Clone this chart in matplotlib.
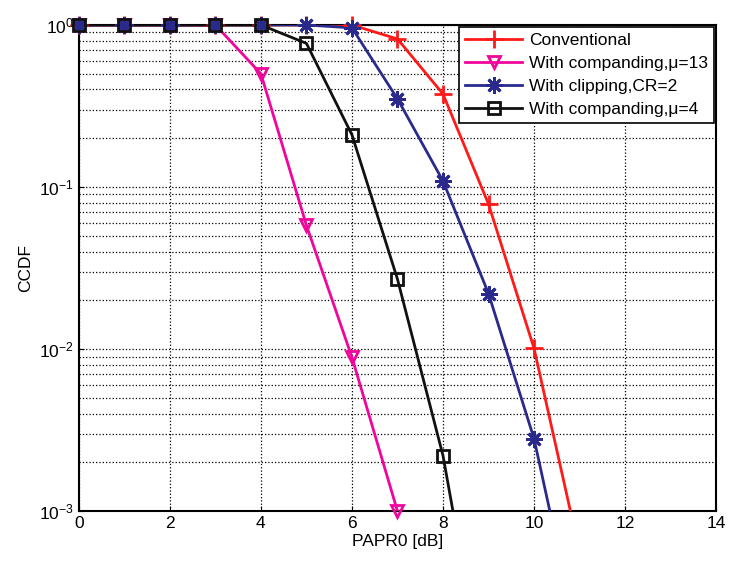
import matplotlib.pyplot as plt
import numpy as np
from matplotlib.lines import Line2D

plt.rcParams['font.family'] = ['Liberation Sans', 'DejaVu Sans']
plt.rcParams['mathtext.fontset'] = 'custom'
plt.rcParams['mathtext.rm'] = 'Liberation Sans'
plt.rcParams['mathtext.it'] = 'Liberation Sans'

papr = [0, 1, 2, 3, 4, 5, 6, 7, 8, 9, 10, 11]

conventional = [1, 1, 1, 1, 1, 1, 1, 0.82, 0.375, 0.0785, 0.0101, 0.00056]
comp_mu13 = [1, 1, 1, 1, 0.5, 0.058, 0.0089, 0.001, None, None, None, None]
clipping = [1, 1, 1, 1, 1, 1, 0.96, 0.35, 0.109, 0.022, 0.0028, 0.000145]
comp_mu4 = [1, 1, 1, 1, 1, 0.77, 0.21, 0.027, 0.0022, 0.00006, None, None]

labels = ['Conventional', 'With companding,\u03bc=13',
          'With clipping,CR=2', 'With companding,\u03bc=4']
colors = ['#ff1a1a', '#f0069a', '#2a2a8c', '#111111']
markers = ['+', 'v', (8, 2, 0), 's']
sizes = [13, 9, 12, 9]
hollow = [False, True, False, True]

fig = plt.figure(figsize=(7.3, 5.68), dpi=100)
ax = fig.add_axes([0.108, 0.100, 0.873, 0.856])

handles = []
for ys, c, m, ms, h in zip([conventional, comp_mu13, clipping, comp_mu4], colors, markers, sizes, hollow):
    xs = [x for x, y in zip(papr, ys) if y is not None]
    yv = [y for y in ys if y is not None]
    ax.plot(xs, yv, color=c, lw=2, zorder=3)
    mx = [x for x, y in zip(xs, yv) if y >= 0.001]
    my = [y for y in yv if y >= 0.001]
    ax.plot(mx, my, ls='none', marker=m, color=c, ms=ms, mew=2,
            mfc='none' if h else c, clip_on=False, zorder=4)
    handles.append(Line2D([], [], color=c, lw=2, marker=m, ms=ms, mew=2,
                          mfc='none' if h else c))

ax.set_yscale('log')
ax.set_xlim(0, 14)
ax.set_ylim(1e-3, 1)
ax.set_xticks(range(0, 15, 2))
ax.set_yticks([1e-3, 1e-2, 1e-1, 1])
ax.grid(True, which='major', color='k', ls=':', lw=0.9)
ax.grid(True, which='minor', axis='y', color='k', ls=':', lw=0.9)
ax.tick_params(which='both', direction='in', labelsize=12.5)
ax.tick_params(which='minor', length=0)
for s in ax.spines.values():
    s.set_linewidth(1.5)
ax.set_xlabel('PAPR0 [dB]', fontsize=12.5, labelpad=2)
ax.set_ylabel('CCDF', fontsize=12.5)

leg = ax.legend(handles, labels, loc='upper right', fontsize=12.5, frameon=True,
                fancybox=False, edgecolor='k', framealpha=1,
                handlelength=3.3, borderpad=0.35, labelspacing=0.45,
                borderaxespad=0.1, handletextpad=0.4)
leg.get_frame().set_linewidth(1.2)

fig.savefig('out.png', dpi=100)
